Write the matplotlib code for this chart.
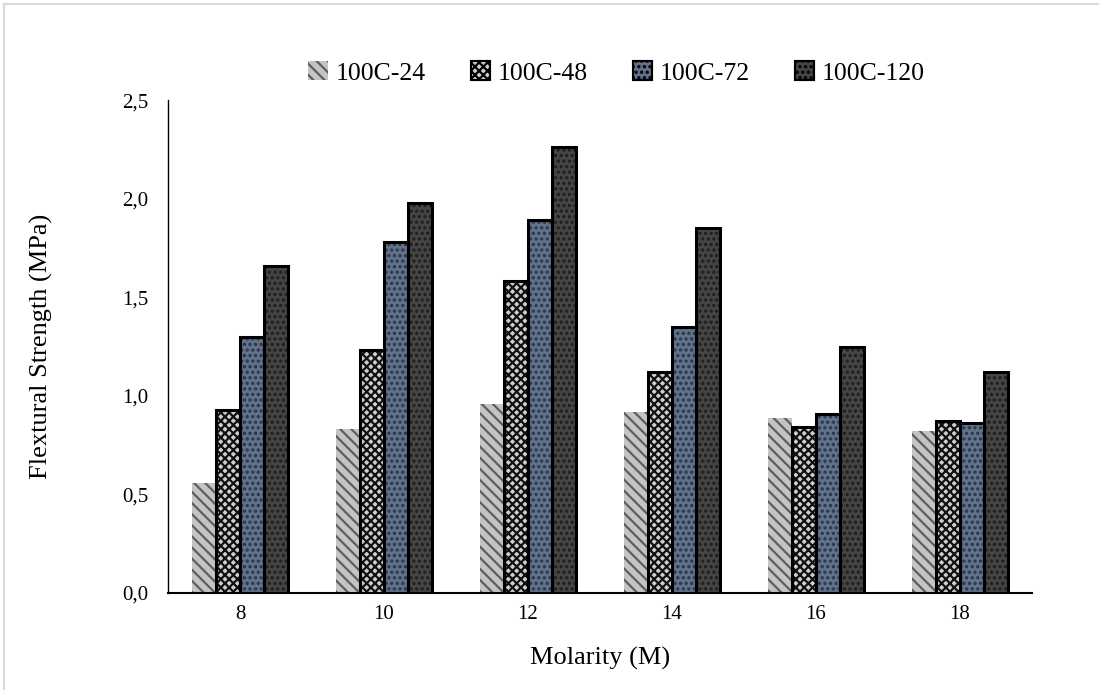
import matplotlib
matplotlib.use("Agg")
import matplotlib.pyplot as plt
from matplotlib.patches import Patch
from matplotlib.lines import Line2D
import numpy as np

plt.rcParams['font.family'] = ['Liberation Serif', 'DejaVu Serif']
plt.rcParams['hatch.linewidth'] = 1.6

molarity = ["8", "10", "12", "14", "16", "18"]
series_names = ["100C-24", "100C-48", "100C-72", "100C-120"]
s_24 = [0.56, 0.83, 0.96, 0.92, 0.89, 0.82]
s_48 = [0.93, 1.23, 1.58, 1.12, 0.84, 0.87]
s_72 = [1.30, 1.78, 1.89, 1.35, 0.91, 0.86]
s_120 = [1.66, 1.98, 2.26, 1.85, 1.25, 1.12]
series_values = [s_24, s_48, s_72, s_120]

# fill colour, hatch colour, hatch pattern, outline width
styles = [
    ("#c4c4c4", "#5e5e5e", "\\\\\\", 0.0),
    ("#cfcfcf", "#111111", "xxxx", 2.2),
    ("#62728c", "#2c3545", "...", 2.2),
    ("#454545", "#1e1e1e", "...", 2.2),
]

fig = plt.figure(figsize=(10.99, 6.90), dpi=100)
ax = fig.add_axes([0.1529, 0.1406, 0.939 - 0.1529, 0.855 - 0.1406])

x = np.arange(len(molarity))
bw = 1 / 6
offsets = (np.arange(4) - 1.5) * bw

for vals, off, (fc, hc, hp, lw) in zip(series_values, offsets, styles):
    ax.bar(x + off, vals, width=bw, color=fc, edgecolor=hc, hatch=hp,
           linewidth=0, zorder=2)
    if lw > 0:
        ax.bar(x + off, vals, width=bw, fill=False, edgecolor="black",
               linewidth=lw, zorder=3)

ax.set_xlim(-0.5, len(molarity) - 0.5)
ax.set_ylim(0, 2.5)
ax.set_xticks(x)
ax.set_xticklabels(molarity)
yt = np.arange(0, 2.51, 0.5)
ax.set_yticks(yt)
ax.set_yticklabels([f"{v:.1f}".replace(".", ",") for v in yt])
ax.tick_params(axis="both", length=0, labelsize=15, colors="#000000")
ax.tick_params(axis="y", pad=14)
ax.tick_params(axis="x", pad=9)

for s in ["top", "right"]:
    ax.spines[s].set_visible(False)
ax.spines["left"].set_linewidth(1.0)
ax.spines["bottom"].set_linewidth(1.5)

ax.set_ylabel("Flextural Strength (MPa)", fontsize=19, labelpad=50)
ax.set_xlabel("Molarity (M)", fontsize=19, labelpad=16)

handles = []
for name, (fc, hc, hp, lw) in zip(series_names, styles):
    handles.append(Patch(facecolor=fc, edgecolor=hc if lw == 0 else "black",
                         hatch=hp, linewidth=lw * 0.7, label=name))
fig.legend(handles=handles, loc="center", bbox_to_anchor=(0.561, 0.894),
           ncol=4, frameon=False, fontsize=18.5, handlelength=0.75,
           handleheight=0.75, handletextpad=0.3, columnspacing=1.75)

# light frame around the figure
fig.add_artist(Line2D([4 / 1099, 1.0], [1 - 4 / 690, 1 - 4 / 690],
                      transform=fig.transFigure, color="#d9d9d9", linewidth=1.5))
fig.add_artist(Line2D([4 / 1099, 4 / 1099], [0.0, 1 - 4 / 690],
                      transform=fig.transFigure, color="#d9d9d9", linewidth=1.5))

fig.savefig("out.png", dpi=100)
